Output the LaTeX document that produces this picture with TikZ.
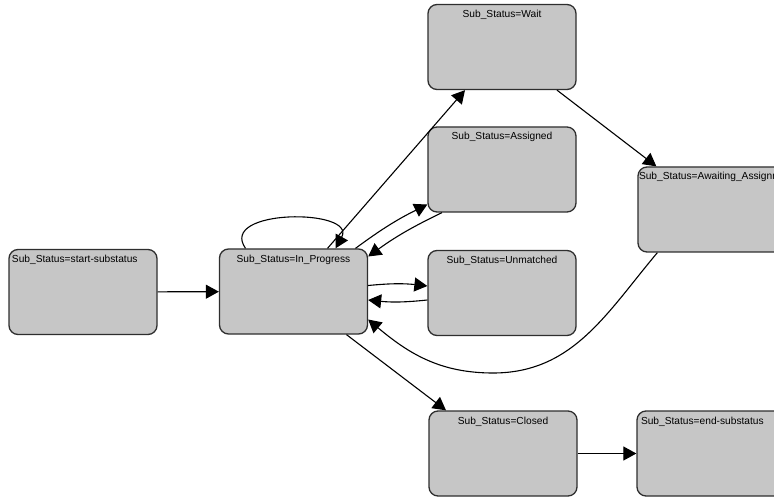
\documentclass[tikz,border=0pt]{standalone}
\usepackage{fontspec}
\setmainfont{Liberation Sans}
\usetikzlibrary{arrows.meta}
\definecolor{StateGray}{HTML}{C6C6C6}
\definecolor{StateEdge}{HTML}{2E2E2E}

\begin{document}
\begin{tikzpicture}[x=1pt,y=-1pt,font=\fontsize{10.2}{12}\selectfont,>={Triangle[length=13pt,width=14pt]},
  state/.style={draw=StateEdge,fill=StateGray,line width=1.3pt,rounded corners=9pt,inner xsep=3pt,inner ysep=3pt,text width=142pt,text height=10pt,text depth=69pt,align=center},
  stateleft/.style={state,align=left},
  trans/.style={->,line width=1.1pt}]
\useasboundingbox (0,0) rectangle (774,497);
\clip (0,0) rectangle (774,497);
\node[stateleft] (start) at (83,292) {Sub\_Status=start-substatus};
\node[state] (inprog) at (293.5,291.5) {Sub\_Status=In\_Progress};
\node[state] (wait) at (502,47) {Sub\_Status=Wait};
\node[state] (assigned) at (502,169.5) {Sub\_Status=Assigned};
\node[state] (unmatched) at (502,293) {Sub\_Status=Unmatched};
\node[stateleft,inner xsep=1pt,text width=180pt] (awaiting) at (729,209.5) {Sub\_Status=Awaiting\_Assignment};
\node[state] (closed) at (503,453.5) {Sub\_Status=Closed};
\node[stateleft,inner xsep=4pt,text width=180pt] (finish) at (731,453.5) {Sub\_Status=end-substatus};
\coordinate (dip) at (493,373);
\draw[trans] (start) -- (inprog);
\draw[trans] ([xshift=-48pt]inprog.north) .. controls +(-28,-40) and +(22,-40) .. ([xshift=42pt]inprog.north);
\draw[trans] ([xshift=34pt]inprog.north) -- ([xshift=-37pt]wait.south);
\draw[trans] ([xshift=62pt]inprog.north) to[bend left=5] ([yshift=-35pt]assigned.west);
\draw[trans] ([xshift=-60pt]assigned.south) to[bend right=5] ([yshift=35pt]inprog.east);
\draw[trans] ([yshift=6pt]inprog.east) to[bend left=6] ([yshift=7pt]unmatched.west);
\draw[trans] ([yshift=-7pt]unmatched.west) to[bend left=6] ([yshift=-8.5pt]inprog.east);
\draw[trans] ([xshift=55pt]wait.south) -- ([xshift=19pt]awaiting.north west);
\draw[trans] ([xshift=20pt]awaiting.south west) to[out=-130,in=0] (dip) to[out=180,in=-40] ([yshift=-28pt]inprog.east);
\draw[trans] ([xshift=53pt]inprog.south) -- ([xshift=-57pt]closed.north);
\draw[trans] (closed) -- (finish);
\end{tikzpicture}
\end{document}
